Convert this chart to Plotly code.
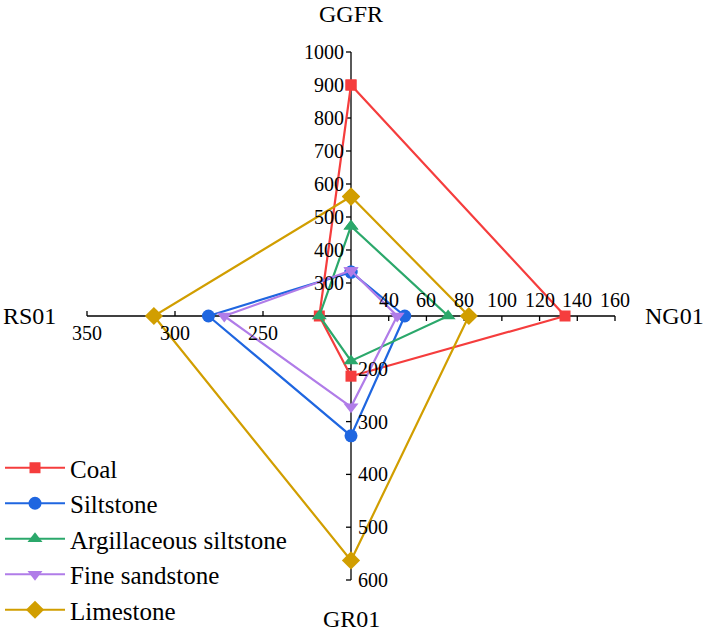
import plotly.graph_objects as go

# ---------------- data ----------------
series = ["Coal", "Siltstone", "Argillaceous siltstone", "Fine sandstone", "Limestone"]
ggfr = [900, 333, 472, 338, 562]
ng01 = [133.5, 48.5, 71.5, 44.5, 82.5]
gr01 = [214, 327, 185, 272, 563]
rs01 = [218, 281, 218, 272, 312]

axis_names = ["GGFR", "NG01", "GR01", "RS01"]
ggfr_range = [200, 1000]
ng01_range = [20, 160]
gr01_range = [100, 600]
rs01_range = [200, 350]
ggfr_ticks = [300, 400, 500, 600, 700, 800, 900, 1000]
ng01_ticks = [40, 60, 80, 100, 120, 140, 160]
gr01_ticks = [200, 300, 400, 500, 600]
rs01_ticks = [250, 300, 350]

colors = ["#F53D3D", "#1F66E0", "#2BA86B", "#B07CE8", "#D19E00"]
symbols = ["square", "circle", "triangle-up", "triangle-down", "diamond"]
msizes = [11, 13, 13, 13, 14]

# ---------------- geometry ----------------
L = 264.0  # axis length in plot units (1 unit = 1 px)
FONT = "Liberation Serif"


def norm(v, rng):
    return (v - rng[0]) / (rng[1] - rng[0]) * L


def pt_top(v):
    return (0.0, norm(v, ggfr_range))


def pt_right(v):
    return (norm(v, ng01_range), 0.0)


def pt_bottom(v):
    return (0.0, -norm(v, gr01_range))


def pt_left(v):
    return (-norm(v, rs01_range), 0.0)


fig = go.Figure()

for i, name in enumerate(series):
    pts = [pt_top(ggfr[i]), pt_right(ng01[i]), pt_bottom(gr01[i]), pt_left(rs01[i])]
    pts.append(pts[0])
    fig.add_trace(go.Scatter(
        x=[p[0] for p in pts], y=[p[1] for p in pts],
        mode="lines+markers", name=name,
        line=dict(color=colors[i], width=2.2),
        marker=dict(symbol=symbols[i], size=msizes[i], color=colors[i]),
    ))

shapes = []
annotations = []
ax_line = dict(color="black", width=1.3)
# axis lines
shapes.append(dict(type="line", x0=0, x1=0, y0=-L, y1=L, line=ax_line, layer="below"))
shapes.append(dict(type="line", x0=-L, x1=L, y0=0, y1=0, line=ax_line, layer="below"))

TK = 5
tick_font = dict(family=FONT, size=20, color="black")

for t in ggfr_ticks:
    y = norm(t, ggfr_range)
    shapes.append(dict(type="line", x0=-TK, x1=0, y0=y, y1=y, line=ax_line, layer="below"))
    annotations.append(dict(x=-5, y=y, text=str(t), showarrow=False, xanchor="right",
                            yanchor="middle", font=tick_font))
for t in ng01_ticks:
    x = norm(t, ng01_range)
    shapes.append(dict(type="line", x0=x, x1=x, y0=-TK, y1=0, line=ax_line, layer="below"))
    annotations.append(dict(x=x, y=16, text=str(t), showarrow=False, xanchor="center",
                            yanchor="middle", font=tick_font))
for t in gr01_ticks:
    y = -norm(t, gr01_range)
    shapes.append(dict(type="line", x0=-TK, x1=0, y0=y, y1=y, line=ax_line, layer="below"))
    annotations.append(dict(x=5, y=y, text=str(t), showarrow=False, xanchor="left",
                            yanchor="middle", font=tick_font))
for t in rs01_ticks:
    x = -norm(t, rs01_range)
    shapes.append(dict(type="line", x0=x, x1=x, y0=0, y1=TK, line=ax_line, layer="below"))
    annotations.append(dict(x=x, y=-17, text=str(t), showarrow=False, xanchor="center",
                            yanchor="middle", font=tick_font))

title_font = dict(family=FONT, size=24, color="black")
annotations.append(dict(x=0, xref="x", y=1, yref="paper", text=axis_names[0], showarrow=False,
                        xanchor="center", yanchor="top", font=title_font, borderpad=0))
annotations.append(dict(x=292, y=0, text=axis_names[1], showarrow=False, xanchor="left",
                        yanchor="middle", font=title_font))
annotations.append(dict(x=0, xref="x", y=0, yref="paper", text=axis_names[2], showarrow=False,
                        xanchor="center", yanchor="bottom", font=title_font, borderpad=0))
annotations.append(dict(x=-293, y=0, text=axis_names[3], showarrow=False, xanchor="right",
                        yanchor="middle", font=title_font))

fig.update_layout(
    width=706, height=633, autosize=False,
    margin=dict(l=0, r=0, t=0, b=0),
    paper_bgcolor="white", plot_bgcolor="white",
    xaxis=dict(range=[-351, 355], visible=False, fixedrange=True),
    yaxis=dict(range=[-317, 316], visible=False, fixedrange=True),
    shapes=shapes, annotations=annotations,
    showlegend=True,
    legend=dict(x=0, y=0, xanchor="left", yanchor="bottom",
                font=dict(family=FONT, size=25, color="black"),
                bgcolor="rgba(0,0,0,0)", tracegroupgap=0, itemwidth=60),
    font=dict(family=FONT),
)

fig.write_html("out.html", config={"displayModeBar": False},
               post_script="document.body.style.margin='0';")
